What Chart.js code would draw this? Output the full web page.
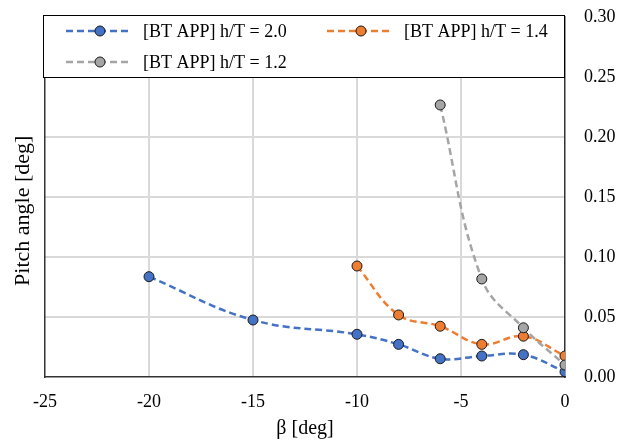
<!DOCTYPE html>
<html>
<head>
<meta charset="utf-8">
<script src="https://cdn.jsdelivr.net/npm/chart.js@4/dist/chart.umd.min.js"></script>
<style>
  html, body { margin: 0; padding: 0; background: #fff; }
  #wrap { width: 624px; height: 441px; position: relative; }
</style>
</head>
<body>
<div id="wrap"><canvas id="myChart"></canvas></div>
<script>
// series values
const seriesLabels = ['[BT APP] h/T = 2.0', '[BT APP] h/T = 1.4', '[BT APP] h/T = 1.2'];
const betaBlue = [-20, -15, -10, -8, -6, -4, -2, 0];
const pitchBlue = [0.0836, 0.0475, 0.0356, 0.0272, 0.0152, 0.0175, 0.0186, 0.0044];
const betaOrange = [-10, -8, -6, -4, -2, 0];
const pitchOrange = [0.0925, 0.0517, 0.0423, 0.0272, 0.034, 0.0175];
const betaGray = [-6, -4, -2, 0];
const pitchGray = [0.2267, 0.0817, 0.041, 0.010];
const xRange = [-25, 0];
const yRange = [0, 0.30];
const xStep = 5;
const yStep = 0.05;

const serif = "'Liberation Serif', 'Times New Roman', serif";

function toPoints(xs, ys) {
    return xs.map((x, i) => ({ x: x, y: ys[i] }));
}

function makeSet(label, xs, ys, color, order) {
    return {
        label: label,
        data: toPoints(xs, ys),
        borderColor: color,
        backgroundColor: color,
        pointBackgroundColor: color,
        pointBorderColor: '#1a1a1a',
        pointBorderWidth: 1,
        pointRadius: 5,
        borderWidth: 2.5,
        borderDash: [7, 4],
        tension: 0.4,
        yAxisID: 'y',
        order: order
    };
}

// legend drawn as a boxed panel over the top band of the plot
const legendBox = {
    id: 'legendBox',
    afterDraw(chart) {
        const { ctx, chartArea, scales } = chart;
        const left = chartArea.left - 2;
        const right = chartArea.right;
        const top = chartArea.top - 2;
        const bottom = scales.y.getPixelForValue(0.25);
        ctx.save();
        ctx.fillStyle = '#fff';
        ctx.fillRect(left, top, right - left, bottom - top);
        ctx.strokeStyle = '#000';
        ctx.lineWidth = 1;
        ctx.strokeRect(left + 0.5, top + 0.5, right - left - 1, bottom - top);

        const cols = [left + 23, left + 284];
        const rows = [top + 16, top + 47];
        chart.data.datasets.forEach((ds, i) => {
            const x0 = cols[i % 2];
            const y0 = rows[Math.floor(i / 2)];
            ctx.setLineDash([7, 4]);
            ctx.strokeStyle = ds.borderColor;
            ctx.lineWidth = 2.5;
            ctx.beginPath();
            ctx.moveTo(x0, y0);
            ctx.lineTo(x0 + 66, y0);
            ctx.stroke();
            ctx.setLineDash([]);
            ctx.beginPath();
            ctx.arc(x0 + 34, y0, 5, 0, Math.PI * 2);
            ctx.fillStyle = ds.pointBackgroundColor;
            ctx.fill();
            ctx.lineWidth = 1;
            ctx.strokeStyle = '#1a1a1a';
            ctx.stroke();
            ctx.fillStyle = '#000';
            ctx.font = '18px ' + serif;
            ctx.textBaseline = 'middle';
            ctx.textAlign = 'left';
            ctx.fillText(ds.label, x0 + 77, y0 + 1);
        });
        ctx.restore();
    }
};

function gridColor(edgeValues) {
    return (c) => edgeValues.includes(c.tick.value) ? 'rgba(0,0,0,0)' : '#d9d9d9';
}

const data = {
    datasets: [
        makeSet(seriesLabels[0], betaBlue, pitchBlue, '#4472c4', 3),
        makeSet(seriesLabels[1], betaOrange, pitchOrange, '#ed7d31', 2),
        makeSet(seriesLabels[2], betaGray, pitchGray, '#a5a5a5', 1)
    ]
};

const config = {
    type: 'line',
    data: data,
    options: {
        responsive: true,
        maintainAspectRatio: false,
        animation: false,
        layout: { padding: { top: 17, left: 0, right: 0, bottom: 0 } },
        plugins: {
            legend: { display: false },
            tooltip: { enabled: false }
        },
        scales: {
            x: {
                type: 'linear',
                min: xRange[0],
                max: xRange[1],
                afterFit: (s) => { s.height = 64; },
                ticks: {
                    stepSize: xStep,
                    padding: 14,
                    color: '#000',
                    font: { family: serif, size: 18 }
                },
                grid: { color: gridColor(xRange), lineWidth: 2, drawTicks: false },
                border: { display: true, color: '#333', width: 1.5 },
                title: {
                    display: true,
                    text: 'β [deg]',
                    color: '#000',
                    font: { family: serif, size: 20 },
                    padding: { top: 0, bottom: 0 }
                }
            },
            yLeft: {
                type: 'linear',
                position: 'left',
                min: 0,
                max: 1,
                afterFit: (s) => { s.width = 45; s.paddingTop = 0; s.paddingBottom = 0; },
                ticks: { display: false },
                grid: { display: false, drawTicks: false },
                border: { display: true, color: '#333', width: 1.5 },
                title: {
                    display: true,
                    // trailing spaces nudge the rotated title a little lower, as in the reference
                    text: 'Pitch angle [deg]\u00a0\u00a0\u00a0\u00a0\u00a0',
                    color: '#000',
                    font: { family: serif, size: 22 },
                    padding: { top: 10, bottom: 0 }
                }
            },
            y: {
                type: 'linear',
                position: 'right',
                min: yRange[0],
                max: yRange[1],
                afterFit: (s) => { s.width = 59; s.paddingTop = 0; s.paddingBottom = 0; },
                ticks: {
                    stepSize: yStep,
                    padding: 19,
                    color: '#000',
                    font: { family: serif, size: 18 },
                    callback: (v) => v.toFixed(2)
                },
                grid: { color: gridColor([0]), lineWidth: 2, drawTicks: false },
                border: { display: true, color: '#333', width: 1.5 }
            }
        }
    },
    plugins: [legendBox]
};

var myChart = new Chart(document.getElementById('myChart'), config);
</script>
</body>
</html>
